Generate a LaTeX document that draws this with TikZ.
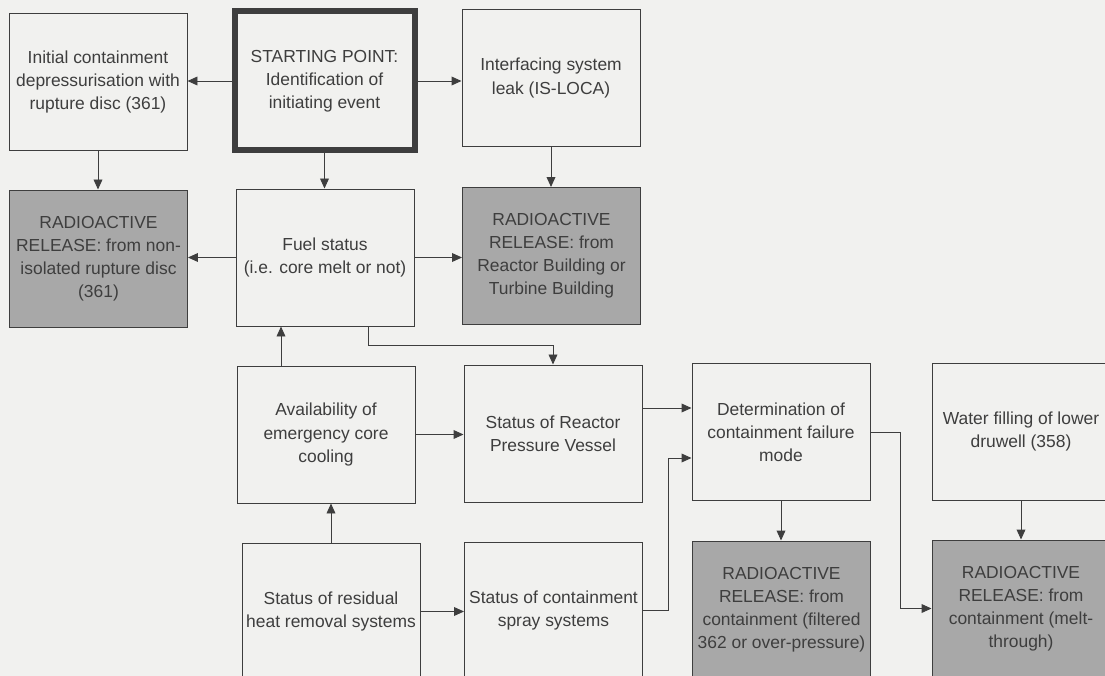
\documentclass[tikz,border=0pt]{standalone}
\usepackage{fontspec}
\setmainfont{Liberation Sans}
\usetikzlibrary{arrows.meta}
\definecolor{paper}{RGB}{241,241,239}
\definecolor{ink}{RGB}{62,62,62}
\definecolor{release}{RGB}{168,168,168}

\begin{document}
\begin{tikzpicture}[x=0.25mm, y=-0.25mm,
    box/.style={draw=ink, line width=0.7pt, text=ink, align=center, inner sep=0pt,
        minimum width=44.5mm, minimum height=34.25mm, font=\fontsize{12.4}{16.4}\selectfont},
    outcome/.style={box, fill=release},
    start/.style={box, line width=1.5mm, minimum width=45mm, minimum height=34.75mm},
    flow/.style={draw=ink, line width=0.7pt, -{Triangle[length=2.5mm, width=2.2mm]}}]
    \clip (0,0) rectangle (1105,676);
    \fill[paper] (0,0) rectangle (1105,676);

    \node[box] (init) at (98,82) {Initial containment\\depressurisation with\\rupture disc (361)};
    \node[start] (start) at (324.5,81) {STARTING POINT:\\Identification of\\initiating event};
    \node[box] (isloca) at (551,78) {Interfacing system\\leak (IS-LOCA)};
    \node[outcome] (reldisc) at (98.5,258.5) {RADIOACTIVE\\RELEASE: from non-\\isolated rupture disc\\(361)};
    \node[box] (fuel) at (325,257.5) {Fuel status\\(i.e. core melt or not)};
    \node[outcome] (relbldg) at (551.5,256) {RADIOACTIVE\\RELEASE: from\\Reactor Building or\\Turbine Building};
    \node[box] (eccs) at (326,434.5) {Availability of\\emergency core\\cooling};
    \node[box] (rpv) at (553,433.5) {Status of Reactor\\Pressure Vessel};
    \node[box] (failmode) at (781,432) {Determination of\\containment failure\\mode};
    \node[box] (drywell) at (1021,431.5) {Water filling of lower\\druwell (358)};
    \node[box] (rhr) at (331,611.5) {Status of residual\\heat removal systems};
    \node[box] (spray) at (553.5,610.5) {Status of containment\\spray systems};
    \node[outcome] (relfilt) at (781.5,609.5) {RADIOACTIVE\\RELEASE: from\\containment (filtered\\362 or over-pressure)};
    \node[outcome] (relmelt) at (1021,608.5) {RADIOACTIVE\\RELEASE: from\\containment (melt-\\through)};

    \coordinate (fuelout) at (368,345);
    \coordinate (eccsout) at (281,0);
    \coordinate (rpvout) at (0,408);
    \coordinate (sprayout) at (668,458);
    \coordinate (failout) at (900,431);

    \draw[flow] (start.west) -- (start.west -| init.east);
    \draw[flow] (start.east) -- (start.east -| isloca.west);
    \draw[flow] (init.south) -- (init.south |- reldisc.north);
    \draw[flow] (start.south) -- (start.south |- fuel.north);
    \draw[flow] (isloca.south) -- (isloca.south |- relbldg.north);
    \draw[flow] (fuel.west) -- (fuel.west -| reldisc.east);
    \draw[flow] (fuel.east) -- (fuel.east -| relbldg.west);
    \draw[flow] (fuel.south -| fuelout) -- (fuelout) -| (rpv.north);
    \draw[flow] (eccs.north -| eccsout) -- (fuel.south -| eccsout);
    \draw[flow] (eccs.east) -- (eccs.east -| rpv.west);
    \draw[flow] (rpv.east |- rpvout) -- (failmode.west |- rpvout);
    \draw[flow] (rhr.north) -- (rhr.north |- eccs.south);
    \draw[flow] (rhr.east) -- (rhr.east -| spray.west);
    \draw[flow] (spray.east) -| (sprayout) -- (sprayout -| failmode.west);
    \draw[flow] (failmode.south) -- (failmode.south |- relfilt.north);
    \draw[flow] (failmode.east) -| (failout |- relmelt.west) -- (relmelt.west);
    \draw[flow] (drywell.south) -- (drywell.south |- relmelt.north);
\end{tikzpicture}
\end{document}
